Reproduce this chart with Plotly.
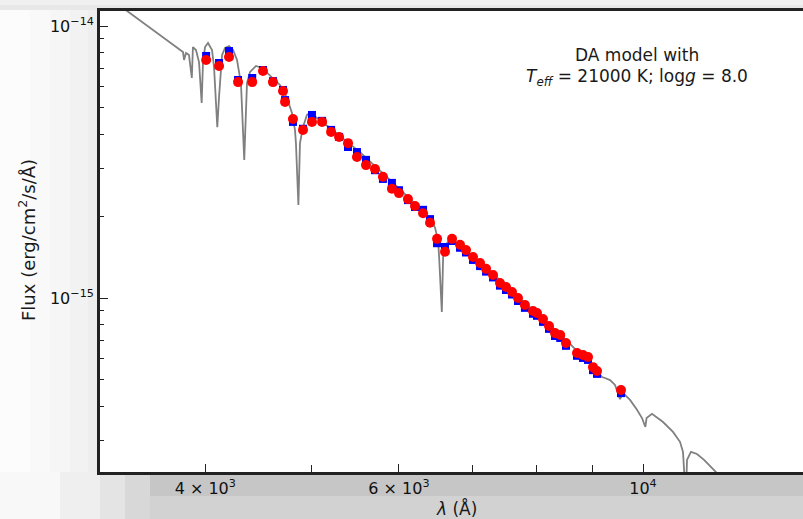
import plotly.graph_objects as go

FLUX_UNIT = 1e-15  # fluxes below are listed in units of 1e-15 erg/cm^2/s/A

# DA white dwarf model spectrum (Teff = 21000 K, log g = 8.0)
model_wave = [3208, 3396, 3794, 3818, 3826, 3842, 3866, 3889, 3898, 3923,
              3948, 3970, 3981, 3998, 4023, 4057, 4074, 4091, 4102, 4117,
              4134, 4143, 4169, 4204, 4240, 4275, 4293, 4311, 4340, 4365,
              4393, 4448, 4504, 4580, 4677, 4746, 4796, 4826, 4836, 4861,
              4877, 4908, 4949, 4980, 5001, 5193, 5529, 5888, 6270, 6430,
              6471, 6512, 6526, 6563, 6581, 6636, 6678, 7110, 7810, 8409,
              9101, 9177, 9235, 9333, 9431, 9470, 9530, 9590, 9732, 9875,
              9979, 10049, 10075, 10190, 10428, 10648, 10805, 10873, 10938, 10965,
              11056, 11196, 11363, 11651, 11999]
model_flux = [13.45, 11.35, 8.16, 8.02, 7.50, 7.96, 7.82, 6.44, 8.37, 8.16,
              7.37, 5.21, 7.37, 8.37, 8.66, 8.16, 7.07, 5.48, 4.25, 5.48,
              7.07, 7.82, 8.30, 8.44, 8.16, 7.50, 6.78, 6.07, 3.22, 6.17,
              6.78, 7.13, 7.01, 6.60, 6.07, 5.44, 4.79, 4.15, 3.71, 2.20,
              3.71, 4.25, 4.71, 4.79, 4.75, 4.22, 3.44, 2.72, 2.14, 1.94,
              1.81, 1.63, 1.415, 0.888, 1.415, 1.59, 1.66, 1.357, 0.959, 0.737,
              0.535, 0.512, 0.508, 0.499, 0.479, 0.459, 0.425, 0.447, 0.422, 0.388,
              0.362, 0.336, 0.362, 0.375, 0.350, 0.322, 0.296, 0.272, 0.181, 0.254,
              0.272, 0.267, 0.254, 0.229, 0.2036]

# Photometric band centres
phot_wave = [4007, 4117, 4204, 4284, 4413, 4514, 4609, 4707, 4727, 4806,
             4908, 5001, 5108, 5205, 5293, 5393, 5495, 5600, 5706, 5802,
             5912, 6000, 6114, 6205, 6310, 6403, 6498, 6607, 6705, 6818,
             6904, 7006, 7110, 7200, 7306, 7413, 7507, 7602, 7698, 7810,
             7943, 8010, 8111, 8214, 8318, 8409, 8511, 8710, 8819, 8913,
             9006, 9082, 9550]
# Observed fluxes (red circles)
obs_flux = [7.50, 7.13, 7.69, 6.22, 6.22, 6.83, 6.22, 5.77, 5.26, 4.55,
            4.15, 4.44, 4.44, 4.08, 3.91, 3.71, 3.30, 3.08, 2.98, 2.79,
            2.52, 2.43, 2.31, 2.18, 2.05, 1.89, 1.65, 1.48, 1.65, 1.57,
            1.50, 1.415, 1.345, 1.28, 1.215, 1.136, 1.098, 1.052, 1.00, 0.943,
            0.896, 0.881, 0.837, 0.789, 0.743, 0.731, 0.683, 0.628, 0.617, 0.607,
            0.557, 0.539, 0.459]
# Synthetic model fluxes in the same bands (blue squares)
syn_flux = [7.76, 7.31, 8.09, 6.33, 6.44, 6.89, 6.27, 5.82, 5.34, 4.44,
            4.19, 4.71, 4.48, 4.15, 3.91, 3.59, 3.44, 3.22, 2.95, 2.74,
            2.65, 2.49, 2.29, 2.16, 2.11, 1.95, 1.59, 1.54, 1.62, 1.53,
            1.47, 1.38, 1.31, 1.25, 1.19, 1.11, 1.07, 1.03, 0.975, 0.92,
            0.875, 0.86, 0.817, 0.77, 0.725, 0.713, 0.667, 0.613, 0.602, 0.592,
            0.543, 0.526, 0.447]

x_tickvals = [4000, 6000, 10000]
x_ticktext = ["4 × 10<sup>3</sup>", "6 × 10<sup>3</sup>", "10<sup>4</sup>"]
x_minor = [5000, 7000, 8000, 9000]
y_tickvals = [1e-15, 1e-14]
y_ticktext = ["10<sup>−15</sup>", "10<sup>−14</sup>"]
y_minor = [3e-16, 4e-16, 5e-16, 6e-16, 7e-16, 8e-16, 9e-16,
           2e-15, 3e-15, 4e-15, 5e-15, 6e-15, 7e-15, 8e-15, 9e-15]

FONT = "DejaVu Sans"

fig = go.Figure()
fig.add_trace(go.Scatter(
    x=model_wave, y=[f * FLUX_UNIT for f in model_flux], mode="lines",
    line=dict(color="#808080", width=1.8), showlegend=False))
fig.add_trace(go.Scatter(
    x=phot_wave, y=[f * FLUX_UNIT for f in syn_flux], mode="markers",
    marker=dict(symbol="square", size=8, color="#0000ff", line=dict(width=0)),
    showlegend=False))
fig.add_trace(go.Scatter(
    x=phot_wave, y=[f * FLUX_UNIT for f in obs_flux], mode="markers",
    marker=dict(symbol="circle", size=10, color="#ff0000", line=dict(width=0)),
    showlegend=False))

axis_common = dict(
    showgrid=False, zeroline=False, showline=True, linecolor="#222222",
    linewidth=2.8, ticks="inside", tickcolor="#222222", tickwidth=1.3,
    ticklen=8, tickfont=dict(family=FONT, size=16, color="#111111"),
)

fig.update_xaxes(
    type="log", range=[3.50636, 4.14545], mirror=True,
    tickmode="array", tickvals=x_tickvals, ticktext=x_ticktext,
    minor=dict(ticks="inside", ticklen=7, tickwidth=1.3, tickcolor="#222222",
               tickmode="array", tickvals=x_minor),
    **axis_common)
fig.update_yaxes(
    type="log", range=[-15.63971, -13.94485], mirror=False,
    tickmode="array", tickvals=y_tickvals, ticktext=y_ticktext,
    minor=dict(ticks="inside", ticklen=4, tickwidth=1.3, tickcolor="#222222",
               tickmode="array", tickvals=y_minor),
    **axis_common)

# Soft grey frame around the axes (stepped shading)
W, H = 703.0, 461.0
def px(x):
    return (x - 100) / W
def py(y):
    return (472 - y) / H

frame = [
    (0, 30, 0, 472, "#fcfcfc"),
    (30, 50, 0, 472, "#f9f9f9"),
    (50, 70, 0, 472, "#f6f6f6"),
    (70, 88, 0, 472, "#f2f2f2"),
    (88, 98, 0, 472, "#eeeeee"),
    (0, 803, 0, 5, "#f0f0f0"),
    (0, 803, 5, 10, "#e8e8e8"),
    (0, 60, 472, 519, "#f8f8f8"),
    (60, 100, 472, 519, "#efefef"),
    (100, 125, 472, 519, "#e4e4e4"),
    (125, 150, 472, 519, "#d8d8d8"),
    (150, 803, 474, 496, "#c6c6c6"),
    (150, 803, 496, 519, "#d2d2d2"),
]
shapes = []
for x0, x1, y0, y1, c in frame:
    shapes.append(dict(type="rect", xref="paper", yref="paper",
                       x0=px(x0), x1=px(x1), y0=py(y1), y1=py(y0),
                       fillcolor=c, line=dict(width=0), layer="below"))

def label(text, x, y, size, **kw):
    return dict(text=text, x=px(x), y=py(y), xref="paper", yref="paper",
                xanchor="center", yanchor="middle", showarrow=False,
                font=dict(family=FONT, size=size, color="#1a1a1a"), **kw)

annotations = [
    label("DA model with", 637, 55, 17),
    label("<i>T</i><sub><i>eff</i></sub> = 21000 K; log<i>g</i> = 8.0", 637, 77, 17),
    label("Flux (erg/cm<sup>2</sup>/s/Å)", 27, 240, 18, textangle=-90),
    label("<i>λ</i> (Å)", 457, 508, 17),
]

fig.update_layout(
    width=803, height=519,
    margin=dict(l=100, r=0, t=11, b=47),
    paper_bgcolor="#fefefe", plot_bgcolor="#ffffff",
    shapes=shapes, annotations=annotations,
    font=dict(family=FONT),
)

fig.write_html("out.html")
